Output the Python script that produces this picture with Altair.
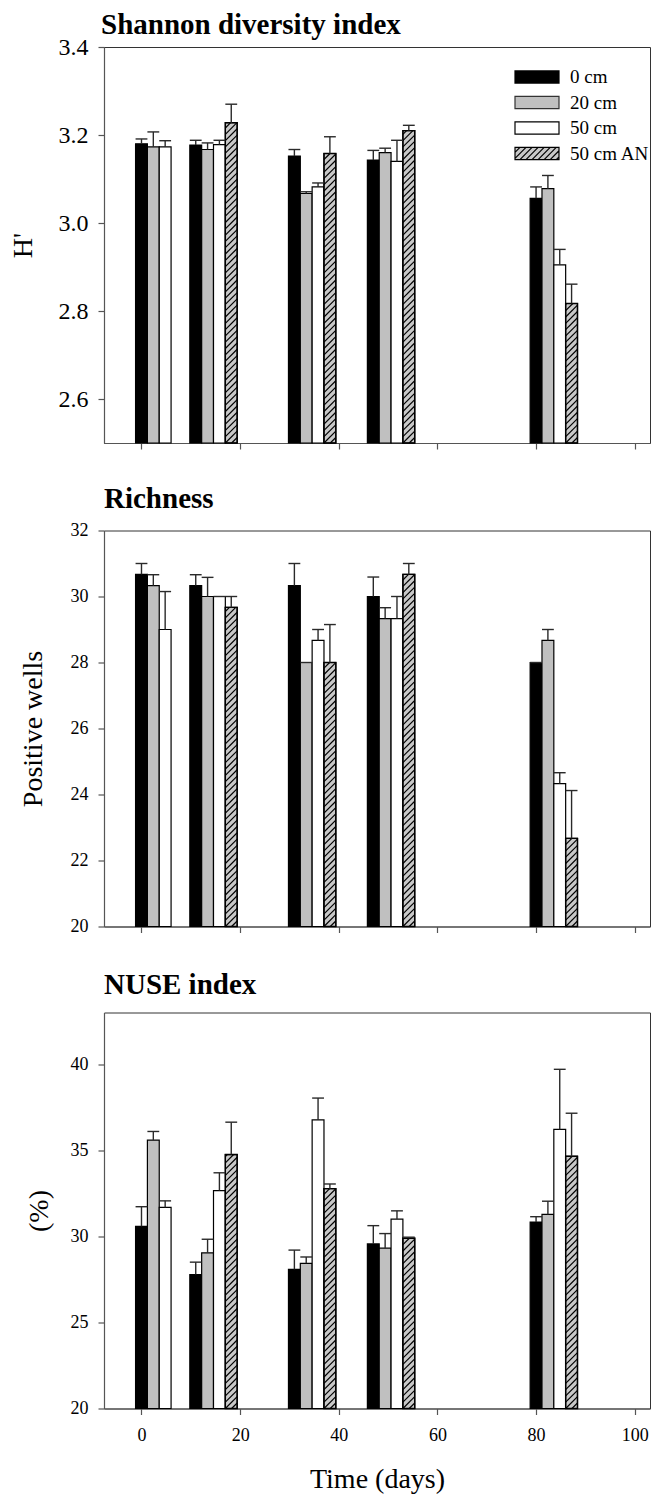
import math
import altair as alt
import pandas as pd

# ---------------- data ----------------
days = [0, 11, 31, 47, 80]
series = ["0 cm", "20 cm", "50 cm", "50 cm AN"]

# Shannon diversity index (H')
shannon_0cm = [3.180, 3.177, 3.152, 3.143, 3.056]
shannon_20cm = [3.173, 3.167, 3.067, 3.160, 3.078]
shannon_50cm = [3.173, 3.178, 3.082, 3.140, 2.905]
shannon_50cm_an = [None, 3.228, 3.158, 3.210, 2.817]
shannon_0cm_se = [0.011, 0.011, 0.015, 0.022, 0.026]
shannon_20cm_se = [0.034, 0.015, 0.004, 0.010, 0.030]
shannon_50cm_se = [0.014, 0.010, 0.009, 0.048, 0.035]
shannon_50cm_an_se = [None, 0.042, 0.038, 0.012, 0.044]

# Richness (positive wells)
richness_0cm = [30.67, 30.33, 30.33, 30.00, 28.00]
richness_20cm = [30.33, 30.00, 28.00, 29.33, 28.67]
richness_50cm = [29.00, 30.00, 28.67, 29.33, 24.33]
richness_50cm_an = [None, 29.67, 28.00, 30.67, 22.67]
richness_0cm_se = [0.33, 0.33, 0.67, 0.59, 0.00]
richness_20cm_se = [0.33, 0.58, 0.00, 0.33, 0.33]
richness_50cm_se = [1.15, 0.00, 0.33, 0.67, 0.33]
richness_50cm_an_se = [None, 0.33, 1.15, 0.33, 1.45]

# NUSE index (%)
nuse_0cm = [30.58, 27.78, 28.08, 29.56, 30.83]
nuse_20cm = [35.59, 29.04, 28.43, 29.31, 31.27]
nuse_50cm = [31.68, 32.66, 36.76, 31.00, 36.21]
nuse_50cm_an = [None, 34.75, 32.77, 29.89, 34.65]
nuse_0cm_se = [1.14, 0.72, 1.12, 1.06, 0.31]
nuse_20cm_se = [0.50, 0.79, 0.37, 0.85, 0.77]
nuse_50cm_se = [0.38, 1.03, 1.27, 0.48, 3.49]
nuse_50cm_an_se = [None, 1.88, 0.27, 0.06, 2.50]

x_ticks = [0, 20, 40, 60, 80, 100]

# ---------------- style / layout ----------------
FONT = "Liberation Serif"
BW = 2.4            # bar width in days
XDOM = [-7.6, 103.1]
W = 546
H = 396
HATCH_STEP = 6.3    # px
fills = ["#000000", "#c0c0c0", "#ffffff", "#c8c8c8"]


def build(vals_list, se_list):
    rows = []
    for si, (vals, ses) in enumerate(zip(vals_list, se_list)):
        for d, v, e in zip(days, vals, ses):
            if v is None:
                continue
            xl = d - BW / 2 + si * BW
            rows.append(dict(series=series[si], x0=xl, x1=xl + BW,
                             xc=xl + BW / 2, v=v, top=v + e))
    return pd.DataFrame(rows)


def build_hatch(df, ydom):
    sx = W / (XDOM[1] - XDOM[0])
    sy = H / (ydom[1] - ydom[0])
    segs = []
    for _, r in df[df.series == series[3]].iterrows():
        w = (r.x1 - r.x0) * sx
        h = (r.v - ydom[0]) * sy
        k0 = math.ceil(-w / HATCH_STEP)
        k1 = math.floor(h / HATCH_STEP)
        for k in range(k0, k1 + 1):
            c = k * HATCH_STEP
            u0 = max(0.0, -c)
            u1 = min(w, h - c)
            if u1 - u0 < 0.5:
                continue
            segs.append(dict(series=series[3],
                             xa=r.x0 + u0 / sx, ya=ydom[0] + (u0 + c) / sy,
                             xb=r.x0 + u1 / sx, yb=ydom[0] + (u1 + c) / sy))
    return pd.DataFrame(segs)


def legend_path(hatched):
    p = "M-2,-0.55H2V0.55H-2Z"
    if hatched:
        step = 0.55
        x = -3.2
        while x < 2.0:
            xa, ya, xb, yb = x, 0.55, x + 1.1, -0.55
            if xa < -2:
                ya = 0.55 - (-2 - xa)
                xa = -2
            if xb > 2:
                yb = -0.55 + (xb - 2)
                xb = 2
            if xb - xa > 0.05:
                p += " M%.3f,%.3f L%.3f,%.3f" % (xa, ya, xb, yb)
            x += step
    return p


fill_scale = alt.Scale(domain=series, range=fills)
stroke_scale = alt.Scale(domain=series, range=["#000000", "#333333", "#000000", "#000000"])
shape_scale = alt.Scale(domain=series,
                        range=[legend_path(False), legend_path(False),
                               legend_path(False), legend_path(True)])

LEG = alt.Legend(orient="none", legendX=421, legendY=18, title=None,
                 labelFont=FONT, labelFontSize=19, labelColor="black",
                 symbolSize=484, symbolStrokeColor="black",
                 symbolStrokeWidth=1.2, labelOffset=21, rowPadding=3.5,
                 padding=0, symbolOpacity=1)


def panel(vals, ses, ydom, yticks, yfmt, ytitle, title, title_offset,
          title_dx, ylabel_size, ytitle_pad, bottom=False, legend=False):
    df = build(vals, ses)
    hatch = build_hatch(df, ydom)
    xs = alt.Scale(domain=XDOM, nice=False, zero=False)
    ys = alt.Scale(domain=ydom, nice=False, zero=False)
    xtitle = "Time (days)" if bottom else ""
    xaxis = alt.Axis(values=x_ticks, labels=bottom, labelFontSize=18,
                     labelPadding=12, titleFontSize=28, titlePadding=21,
                     tickSize=6)
    yaxis = alt.Axis(values=yticks, format=yfmt, labelFontSize=ylabel_size,
                     labelPadding=10, titleFontSize=28, titlePadding=ytitle_pad,
                     tickSize=6)

    def X(f):
        return alt.X(f, scale=xs, axis=xaxis, title=xtitle)

    def Y(f):
        return alt.Y(f, scale=ys, axis=yaxis, title=ytitle)

    leg = LEG if legend else None
    base = alt.Chart(df)
    bars = base.mark_rect(stroke="black", strokeWidth=1.2).encode(
        x=X("x0:Q"), x2="x1:Q", y=Y("v:Q"), y2=alt.datum(ydom[0]),
        fill=alt.Fill("series:N", scale=fill_scale, legend=leg),
    )
    hatch_layer = alt.Chart(hatch).mark_rule(color="black", strokeWidth=1.2).encode(
        x=X("xa:Q"), y=Y("ya:Q"), x2="xb:Q", y2="yb:Q",
    )
    outline = base.transform_filter(alt.datum.series == series[3]).mark_rect(
        fillOpacity=0, stroke="black", strokeWidth=1.4).encode(
        x=X("x0:Q"), x2="x1:Q", y=Y("v:Q"), y2=alt.datum(ydom[0]),
    )
    err_v = base.mark_rule(color="#2a2a2a", strokeWidth=1.4).encode(
        x=X("xc:Q"), y=Y("v:Q"), y2="top:Q",
    )
    err_cap = base.mark_rule(color="#2a2a2a", strokeWidth=1.4).encode(
        x=X("x0:Q"), x2="x1:Q", y=Y("top:Q"),
    )
    layers = [bars, hatch_layer, outline, err_v, err_cap]
    if legend:
        pts = base.transform_filter("false").mark_point(
            filled=True, strokeWidth=1.2, opacity=1).encode(
            x=X("xc:Q"), y=Y("v:Q"),
            fill=alt.Fill("series:N", scale=fill_scale, legend=leg),
            stroke=alt.Stroke("series:N", scale=stroke_scale, legend=leg),
            shape=alt.Shape("series:N", scale=shape_scale, legend=leg),
        )
        layers.append(pts)
    return alt.layer(*layers).properties(
        width=W, height=H,
        title=alt.TitleParams(title, offset=title_offset, dx=title_dx,
                              anchor="start", frame="group", font=FONT,
                              fontSize=29, fontWeight="bold", color="black",
                              baseline="alphabetic"),
    )


top = panel([shannon_0cm, shannon_20cm, shannon_50cm, shannon_50cm_an],
            [shannon_0cm_se, shannon_20cm_se, shannon_50cm_se, shannon_50cm_an_se],
            [2.5, 3.4], [2.6, 2.8, 3.0, 3.2, 3.4], ".1f", "H'",
            "Shannon diversity index", -28, -3, 24, 21, legend=True)
mid = panel([richness_0cm, richness_20cm, richness_50cm, richness_50cm_an],
            [richness_0cm_se, richness_20cm_se, richness_50cm_se, richness_50cm_an_se],
            [20, 32], [20, 22, 24, 26, 28, 30, 32], "d", "Positive wells",
            "Richness", -15.5, 0, 18, 23)
bot = panel([nuse_0cm, nuse_20cm, nuse_50cm, nuse_50cm_an],
            [nuse_0cm_se, nuse_20cm_se, nuse_50cm_se, nuse_50cm_an_se],
            [20, 43], [20, 25, 30, 35, 40], "d", "(%)",
            "NUSE index", -10, 0, 18, 17, bottom=True)

chart = alt.vconcat(
    alt.vconcat(top, mid, spacing=33.5), bot, spacing=33.5
).resolve_legend(
    fill="independent", shape="independent", stroke="independent"
).properties(
    padding={"top": 2, "left": 0, "right": 0, "bottom": 0}
).configure_view(
    stroke="#333333", strokeWidth=1
).configure_axis(
    labelFont=FONT, titleFont=FONT, labelColor="black", titleColor="black",
    tickColor="#555555", domainColor="#555555", grid=False,
    titleFontWeight="normal", domainWidth=1.2, tickWidth=1.2
)

chart.save("out.html", embed_options={"renderer": "svg", "actions": False})
